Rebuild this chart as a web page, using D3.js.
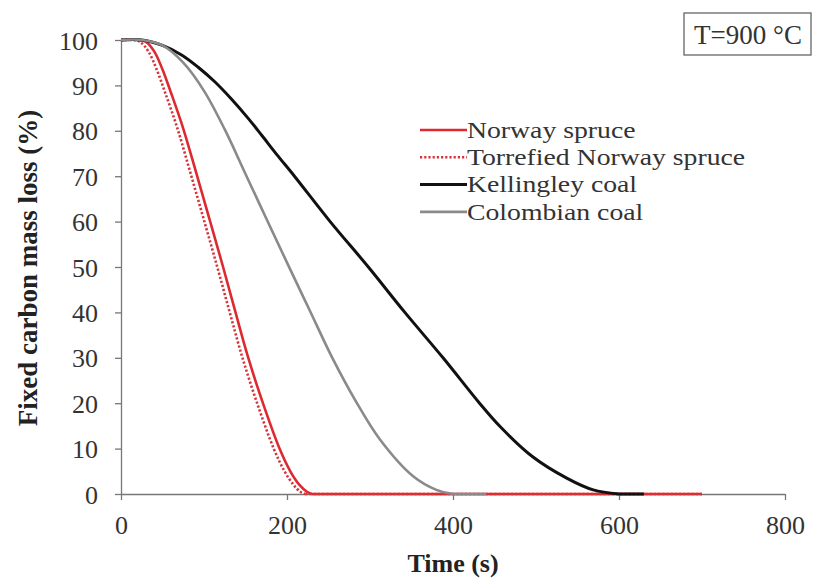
<!DOCTYPE html>
<html><head><meta charset="utf-8">
<script src="https://cdn.jsdelivr.net/npm/d3@7"></script>
<style>body{margin:0;background:#fff}svg{display:block}</style>
</head><body>
<svg id="c" width="817" height="583"></svg>
<script>
const xTicks = [0, 200, 400, 600, 800];
const yTicks = [0, 10, 20, 30, 40, 50, 60, 70, 80, 90, 100];
const seriesNames = ["Norway spruce", "Torrefied Norway spruce", "Kellingley coal", "Colombian coal"];

const norwayT = [0, 22, 30, 40, 50, 60, 75, 91, 107, 123, 138, 153, 171, 191, 204, 215, 224, 230, 700];
const norwayV = [100, 100, 99.6, 97.5, 93.5, 88.5, 80.5, 70.5, 60.3, 50, 40, 30.2, 20, 10, 5, 2, 0.5, 0, 0];
const torrT = [0, 15, 23, 33, 43, 53, 68, 84, 100, 116, 131, 146, 164, 184, 197, 208, 216, 222, 700];
const torrV = [100, 100, 99.6, 97.5, 93.5, 88.5, 80.5, 70.5, 60.3, 50, 40, 30.2, 20, 10, 5, 2, 0.5, 0, 0];
const kellT = [0, 25, 50, 73, 93, 113, 133, 153, 170, 188, 209, 252, 298, 342, 388, 432, 457, 496, 537, 569, 600, 630];
const kellV = [100, 100, 98.8, 96.7, 94, 90.8, 87, 82.8, 78.9, 74.7, 70, 60, 50, 40, 30, 20, 14.8, 8.2, 3.5, 0.9, 0, 0];
const colT = [0, 25, 50, 75, 100, 125, 150, 176, 202, 228, 254, 283, 312, 352, 380, 400, 440];
const colV = [100, 100, 98.8, 95, 88.8, 80.3, 70.5, 60.3, 50.2, 40.2, 30.2, 20.4, 12, 3.9, 0.9, 0, 0];

const series = [
  {name: seriesNames[0], t: norwayT, v: norwayV, color: "#dd2a30", width: 2.6, dash: null},
  {name: seriesNames[1], t: torrT, v: torrV, color: "#d8323a", width: 2.6, dash: "2.2,2"},
  {name: seriesNames[2], t: kellT, v: kellV, color: "#111111", width: 3, dash: null},
  {name: seriesNames[3], t: colT, v: colV, color: "#8a8a8a", width: 2.6, dash: null}
];

const svg = d3.select("#c");
const x = d3.scaleLinear().domain([0, 800]).range([121, 785]);
const y = d3.scaleLinear().domain([0, 100]).range([494, 40]);
const font = "'Liberation Serif','Times New Roman',serif";

// axes
const xAxis = svg.append("g").attr("transform", "translate(0,494)")
  .call(d3.axisBottom(x).tickValues(xTicks).tickSize(6).tickSizeOuter(0).tickPadding(16));
const yAxis = svg.append("g").attr("transform", "translate(121,0)")
  .call(d3.axisLeft(y).tickValues(yTicks).tickSize(6).tickSizeOuter(0).tickPadding(17));
[xAxis, yAxis].forEach(g => {
  g.attr("font-family", null).attr("font-size", null);
  g.selectAll("path.domain").attr("stroke", "#777").attr("stroke-width", 1.3);
  g.selectAll(".tick line").attr("stroke", "#777").attr("stroke-width", 1.3);
  g.selectAll(".tick text").attr("fill", "#333").style("font-family", font).style("font-size", "26px");
});
yAxis.selectAll(".tick text").attr("dy", "0.35em");

// lines: smooth decline, straight flat tail
const curveLine = d3.line().x(d => x(d[0])).y(d => Math.min(y(0), y(d[1]))).curve(d3.curveCatmullRom.alpha(0.5));
const flatLine = d3.line().x(d => x(d[0])).y(d => y(d[1]));
series.forEach(s => {
  const pts = s.t.map((t, i) => [t, s.v[i]]);
  const firstZero = pts.findIndex(p => p[1] === 0);
  const g = svg.append("g").attr("fill", "none")
    .attr("stroke", s.color).attr("stroke-width", s.width)
    .attr("stroke-dasharray", s.dash);
  g.append("path").attr("d", curveLine(pts.slice(0, firstZero + 1)));
  g.append("path").attr("d", flatLine(pts.slice(firstZero)));
});

// axis titles
svg.append("text").attr("x", 453).attr("y", 572).attr("text-anchor", "middle")
  .style("font-family", font).style("font-size", "26px").style("font-weight", "bold").attr("fill", "#222")
  .text("Time (s)");
svg.append("text").attr("transform", "translate(37,268) rotate(-90)").attr("text-anchor", "middle")
  .style("font-family", font).style("font-size", "27px").style("font-weight", "bold").attr("fill", "#222")
  .text("Fixed carbon mass loss (%)");

// legend
const leg = svg.append("g");
series.forEach((s, i) => {
  const yy = 130 + i * 27.3;
  leg.append("line").attr("x1", 420).attr("x2", 467).attr("y1", yy).attr("y2", yy)
    .attr("stroke", s.color).attr("stroke-width", s.width).attr("stroke-dasharray", s.dash);
  leg.append("text").attr("transform", `translate(467,${yy}) scale(1.18,1)`).attr("dy", "0.33em")
    .style("font-family", font).style("font-size", "23.5px").attr("fill", "#333").text(s.name);
});

// temperature box
svg.append("rect").attr("x", 684).attr("y", 13).attr("width", 127).attr("height", 42)
  .attr("fill", "#fff").attr("stroke", "#666").attr("stroke-width", 1.3);
svg.append("text").attr("x", 748).attr("y", 35).attr("dy", "0.35em").attr("text-anchor", "middle")
  .style("font-family", font).style("font-size", "27px").attr("fill", "#333").text("T=900 °C");
</script>
</body></html>
